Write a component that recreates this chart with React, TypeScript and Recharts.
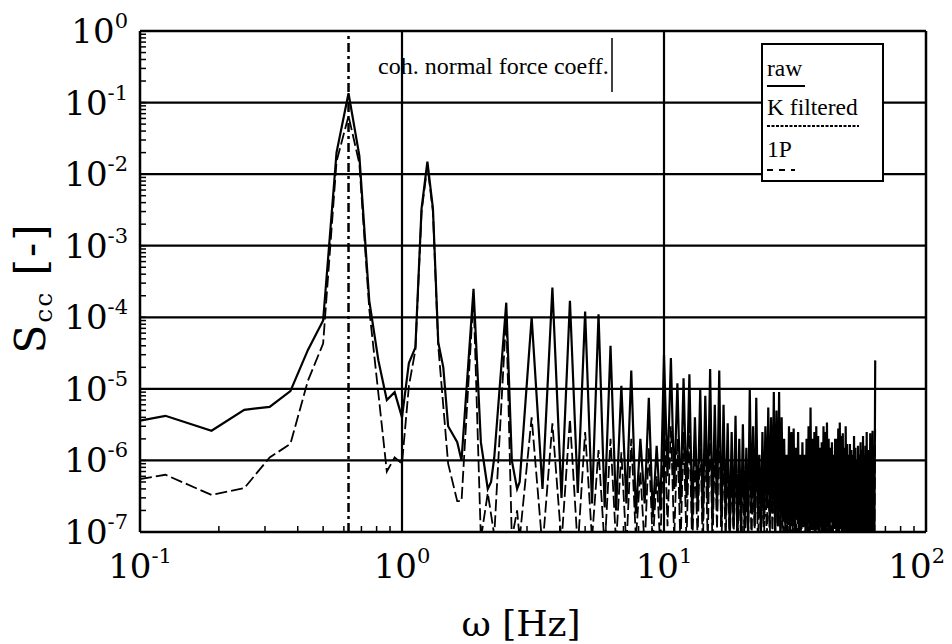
import React from 'react';
import { LineChart, Line, XAxis, YAxis, ReferenceLine, Legend, Label } from 'recharts';

const SERIF = '"Liberation Serif", "Times New Roman", serif';
const TICK_FONT = '"DejaVu Serif", "Liberation Serif", serif';

// ---- axis ticks ----
const xMajorTicks = [0.1, 1, 10, 100];
const xMinorTicks = [0.2, 0.3, 0.4, 0.5, 0.6, 0.7, 0.8, 0.9, 2, 3, 4, 5, 6, 7, 8, 9, 20, 30, 40, 50, 60, 70, 80, 90];
const yMajorTicks = [1e-7, 1e-6, 1e-5, 1e-4, 1e-3, 1e-2, 1e-1, 1];
const yMinorTicks = [
  2e-7, 3e-7, 4e-7, 5e-7, 6e-7, 7e-7, 8e-7, 9e-7,
  2e-6, 3e-6, 4e-6, 5e-6, 6e-6, 7e-6, 8e-6, 9e-6,
  2e-5, 3e-5, 4e-5, 5e-5, 6e-5, 7e-5, 8e-5, 9e-5,
  2e-4, 3e-4, 4e-4, 5e-4, 6e-4, 7e-4, 8e-4, 9e-4,
  2e-3, 3e-3, 4e-3, 5e-3, 6e-3, 7e-3, 8e-3, 9e-3,
  2e-2, 3e-2, 4e-2, 5e-2, 6e-2, 7e-2, 8e-2, 9e-2,
  0.2, 0.3, 0.4, 0.5, 0.6, 0.7, 0.8, 0.9,
];
const gridX = [1, 10];
const gridY = [1e-1, 1e-2, 1e-3, 1e-4, 1e-5, 1e-6];
const onePFreq = 0.625;

// ---- low-frequency part (Hz / value) ----
const lowRawFreq = [0.1, 0.125, 0.1875, 0.25, 0.3125, 0.375, 0.4375, 0.5, 0.5625, 0.625, 0.6875, 0.75, 0.8125, 0.875, 0.9375, 1, 1.0625, 1.125, 1.1875, 1.25, 1.3125, 1.375, 1.4375, 1.5, 1.625, 1.6875, 1.875, 2, 2.125, 2.1875, 2.25, 2.5, 2.625, 2.75, 2.8125];
const lowRawValue = [3.6e-6, 4.2e-6, 2.6e-6, 5.1e-6, 5.6e-6, 9.3e-6, 3.5e-5, 9e-5, 2e-2, 1.35e-1, 1.8e-2, 1.7e-4, 2.5e-5, 7e-6, 9e-6, 4e-6, 2.3e-5, 3.8e-5, 3.3e-3, 1.5e-2, 3.3e-3, 4.5e-5, 2e-5, 3e-6, 1.8e-6, 1e-6, 2.5e-4, 1.8e-6, 4e-7, 5e-7, 1.1e-6, 1.6e-4, 1e-6, 4e-7, 5e-7];

const lowFiltFreq = [0.1, 0.125, 0.1875, 0.25, 0.3125, 0.375, 0.4375, 0.5, 0.5625, 0.625, 0.6875, 0.75, 0.875, 0.9375, 1, 1.0625, 1.125, 1.1875, 1.25, 1.3125, 1.375, 1.5, 1.625, 1.6875, 1.875, 2, 2.125, 2.25, 2.5, 2.625, 2.75, 2.8125];
const lowFiltValue = [5.5e-7, 6.3e-7, 3.3e-7, 4.1e-7, 1.1e-6, 1.7e-6, 1.3e-5, 4.3e-5, 1.5e-2, 6.5e-2, 1.4e-2, 1.3e-4, 7e-7, 1.1e-6, 9e-7, 1.1e-5, 3.5e-5, 3e-3, 1.3e-2, 3e-3, 4e-5, 9e-7, 2.7e-7, 2.7e-7, 2e-4, 8e-8, 3.5e-7, 9e-8, 1.1e-4, 8e-8, 2e-7, 8e-8];

// ---- rotor harmonics (n x 1P) ----
const harmonicFreq = [
  3.125, 3.75, 4.375, 5, 5.625, 6.25, 6.875, 7.5, 8.125, 8.75, 9.375, 10,
  10.625, 11.25, 11.875, 12.5, 13.125, 13.75, 14.375, 15, 15.625, 16.25, 16.875, 17.5, 18.125, 18.75, 19.375, 20,
  20.625, 21.25, 21.875, 22.5, 23.125, 23.75, 24.375, 25, 25.625, 26.25, 26.875, 27.5, 28.125, 28.75, 29.375, 30,
  30.625, 31.25, 31.875, 32.5, 33.125, 33.75, 34.375, 35, 35.625, 36.25, 36.875, 37.5, 38.125, 38.75, 39.375, 40,
  40.625, 41.25, 41.875, 42.5, 43.125, 43.75, 44.375, 45, 45.625, 46.25, 46.875, 47.5, 48.125, 48.75, 49.375, 50,
  50.625, 51.25, 51.875, 52.5, 53.125, 53.75, 54.375, 55, 55.625, 56.25, 56.875, 57.5, 58.125, 58.75, 59.375, 60,
  60.625, 61.25, 61.875, 62.5, 63.125, 64,
];
const rawPeak = [
  1e-4, 2.6e-4, 1.7e-4, 1.2e-4, 1.1e-4, 4e-5, 1.1e-5, 1.8e-5, 2e-6, 7.5e-6, 1.6e-6, 3e-5,
  2.7e-5, 1.2e-5, 1.4e-5, 1.6e-5, 4e-6, 1e-5, 8e-6, 1.9e-5, 6e-6, 1.8e-5, 6e-6, 3.3e-6, 2.5e-6, 4.2e-6, 2e-6, 3.2e-6,
  1.5e-6, 1e-5, 3e-6, 7.5e-6, 1.2e-6, 2.5e-6, 3e-6, 5.5e-6, 4e-6, 9e-6, 5e-6, 9e-6, 4e-6, 2e-6, 1.2e-6, 3e-6,
  2.5e-6, 2.8e-6, 1.5e-6, 2.5e-6, 1.2e-6, 1.8e-6, 1.2e-6, 2e-6, 3e-6, 5.5e-6, 2e-6, 2.5e-6, 3e-6, 2.2e-6, 1.5e-6, 1.8e-6,
  3e-6, 2.5e-6, 3.4e-6, 2e-6, 1.5e-6, 1.8e-6, 1.2e-6, 2e-6, 2e-6, 2.8e-6, 3.4e-6, 2.2e-6, 2.4e-6, 1.5e-6, 3e-6, 1.7e-6,
  1.2e-6, 1.7e-6, 1.4e-6, 1.2e-6, 2.2e-6, 1.5e-6, 1e-6, 1.6e-6, 1.2e-6, 1.8e-6, 1.4e-6, 2.2e-6, 1.2e-6, 1.6e-6, 2.5e-6, 1.4e-6,
  1.3e-6, 2.4e-6, 1.4e-6, 2.6e-6, 1.5e-6, 2.5e-5,
];
const rawTrough = [
  4e-7, 3e-7, 3.5e-7, 2.5e-7, 2.2e-7, 2e-7, 2.5e-7, 1.8e-7, 2.5e-7, 1.6e-7, 2e-7, 6e-7,
  4e-7, 2.5e-7, 3e-7, 1.5e-7, 2e-7, 1.4e-7, 2.5e-7, 1.3e-7, 2e-7, 1.2e-7, 1.5e-7, 9e-8, 1.2e-7, 8e-8, 1e-7, 1.3e-7,
  9e-8, 2e-7, 1.2e-7, 1.8e-7, 1e-7, 1.5e-7, 2.5e-7, 1.4e-7, 1.8e-7, 1e-7, 1.2e-7, 9e-8, 1.5e-7, 1e-7, 1.3e-7, 8e-8,
  1.2e-7, 1e-7, 1.5e-7, 9e-8, 1.2e-7, 1.6e-7, 1e-7, 1.3e-7, 8e-8, 1.1e-7, 1.4e-7, 1e-7, 1.2e-7, 9e-8, 1.3e-7, 1e-7,
  1.1e-7, 8e-8, 1.2e-7, 1e-7, 1.4e-7, 9e-8, 1.1e-7, 1.3e-7, 8e-8, 1e-7, 1.2e-7, 9e-8, 1.1e-7, 1e-7, 8e-8, 1.2e-7,
  1e-7, 9e-8, 1.1e-7, 8e-8, 1.2e-7, 1e-7, 9e-8, 1.1e-7, 8e-8, 1e-7, 1.2e-7, 9e-8, 1e-7, 8e-8, 1.1e-7, 9e-8,
  1e-7, 8e-8, 1.1e-7, 9e-8, 1e-7,
];
const filtPeak = [
  4e-6, 3.3e-6, 3.8e-6, 2.5e-6, 1.4e-6, 2e-6, 1.3e-6, 2e-6, 7e-7, 1.5e-6, 6e-7, 5e-6,
  3e-6, 2e-6, 2.5e-6, 3e-6, 1e-6, 2.5e-6, 2e-6, 4e-6, 1.5e-6, 4e-6, 1.5e-6, 1e-6, 8e-7, 1.2e-6, 6e-7, 1e-6,
  5e-7, 2.5e-6, 8e-7, 2e-6, 4e-7, 7e-7, 8e-7, 1.5e-6, 1e-6, 2e-6, 1.2e-6, 2e-6, 1e-6, 6e-7, 4e-7, 8e-7,
  7e-7, 8e-7, 4e-7, 7e-7, 4e-7, 5e-7, 4e-7, 6e-7, 8e-7, 1.5e-6, 6e-7, 7e-7, 8e-7, 6e-7, 4e-7, 5e-7,
  8e-7, 7e-7, 9e-7, 6e-7, 4e-7, 5e-7, 4e-7, 6e-7, 6e-7, 8e-7, 9e-7, 6e-7, 7e-7, 4e-7, 8e-7, 5e-7,
  4e-7, 5e-7, 4e-7, 4e-7, 6e-7, 4e-7, 3e-7, 5e-7, 4e-7, 5e-7, 4e-7, 6e-7, 4e-7, 5e-7, 7e-7, 4e-7,
  4e-7, 6e-7, 4e-7, 7e-7, 4e-7, 3e-6,
];
const filtTrough = [
  6e-8, 7e-8, 6e-8, 8e-8, 6e-8, 7e-8, 6e-8, 8e-8, 6e-8, 7e-8, 6e-8, 1.2e-7,
  8e-8, 6e-8, 7e-8, 6e-8, 8e-8, 6e-8, 7e-8, 6e-8, 1.1e-7, 6e-8, 7e-8, 6e-8, 8e-8, 6e-8, 7e-8, 6e-8,
  7e-8, 6e-8, 1.1e-7, 6e-8, 8e-8, 6e-8, 7e-8, 6e-8, 8e-8, 6e-8, 1.2e-7, 6e-8, 7e-8, 6e-8, 8e-8, 6e-8,
  6e-8, 8e-8, 6e-8, 7e-8, 6e-8, 1.1e-7, 6e-8, 7e-8, 6e-8, 8e-8, 6e-8, 7e-8, 6e-8, 8e-8, 6e-8, 7e-8,
  6e-8, 7e-8, 6e-8, 8e-8, 6e-8, 7e-8, 1.1e-7, 6e-8, 7e-8, 6e-8, 8e-8, 6e-8, 7e-8, 6e-8, 8e-8, 6e-8,
  7e-8, 6e-8, 8e-8, 6e-8, 7e-8, 6e-8, 8e-8, 6e-8, 7e-8, 6e-8, 8e-8, 6e-8, 7e-8, 6e-8, 8e-8, 6e-8,
  7e-8, 6e-8, 8e-8, 6e-8, 7e-8,
];

type Pt = { f: number; v: number };
function buildSeries(lowF: number[], lowV: number[], peaks: number[], troughs: number[]): Pt[] {
  const pts: Pt[] = lowF.map((f, i) => ({ f, v: lowV[i] }));
  harmonicFreq.forEach((f, i) => {
    pts.push({ f, v: peaks[i] });
    if (i < troughs.length) pts.push({ f: (f + harmonicFreq[i + 1]) / 2, v: troughs[i] });
  });
  return pts;
}
const rawSeries = buildSeries(lowRawFreq, lowRawValue, rawPeak, rawTrough);
const filtSeries = buildSeries(lowFiltFreq, lowFiltValue, filtPeak, filtTrough);

const allX = [...xMajorTicks, ...xMinorTicks].sort((a, b) => a - b);
const allY = [...yMajorTicks, ...yMinorTicks].sort((a, b) => a - b);
const xDomainMax = 100;

function exponentOf(v: number): number | null {
  const e = Math.round(Math.log10(v));
  return Math.abs(v / Math.pow(10, e) - 1) < 1e-6 ? e : null;
}

const XTick = (props: any) => {
  const { x, y, payload } = props;
  const e = exponentOf(payload.value);
  if (e === null) return <g />;
  const atRightEdge = payload.value === xDomainMax;
  return (
    <text
      x={atRightEdge ? x + 19 : x}
      y={y + 50}
      textAnchor={atRightEdge ? 'end' : 'middle'}
      fontFamily={TICK_FONT}
      fontSize={34}
      fill="#000"
    >
      <tspan>10</tspan>
      <tspan dy={-15} fontSize={21}>{String(e)}</tspan>
    </text>
  );
};

const YTick = (props: any) => {
  const { x, y, payload } = props;
  const e = exponentOf(payload.value);
  if (e === null) return <g />;
  return (
    <text x={x} y={y + 12} textAnchor="end" fontFamily={TICK_FONT} fontSize={34} fill="#000">
      <tspan>10</tspan>
      <tspan dy={-15} fontSize={21}>{String(e)}</tspan>
    </text>
  );
};

const XTitle = () => (
  <text x={521} y={636} textAnchor="middle" fontFamily={TICK_FONT} fontSize={36} fill="#000">
    ω [Hz]
  </text>
);

const YTitle = () => (
  <text transform="translate(45,288) rotate(-90)" textAnchor="middle" fontFamily={TICK_FONT} fontSize={42} fill="#000" letterSpacing={2}>
    <tspan>S</tspan>
    <tspan fontSize={25} dy={7}>cc</tspan>
    <tspan dy={-7}> [-]</tspan>
  </text>
);

const PlotTitle = () => (
  <g>
    <text x={378} y={74} fontFamily={SERIF} fontSize={24} fill="#000">
      coh. normal force coeff.
    </text>
    <line x1={612} x2={612} y1={38} y2={92} stroke="#000" strokeWidth={1.5} />
  </g>
);

const LegendBox = () => (
  <svg width={124} height={140} style={{ display: 'block' }}>
    <rect x={1} y={1} width={121} height={137} fill="#fff" stroke="#000" strokeWidth={2} />
    <text x={6} y={33} fontFamily={SERIF} fontSize={23.5} fill="#000">raw</text>
    <line x1={6} x2={44} y1={43} y2={43} stroke="#000" strokeWidth={2} />
    <text x={6} y={72} fontFamily={SERIF} fontSize={23.5} fill="#000">K filtered</text>
    <line x1={6} x2={98} y1={83} y2={83} stroke="#000" strokeWidth={2} strokeDasharray="3 1.5" />
    <text x={6} y={114} fontFamily={SERIF} fontSize={23.5} fill="#000">1P</text>
    <line x1={6} x2={34} y1={127} y2={127} stroke="#000" strokeWidth={2} strokeDasharray="6 6" />
  </svg>
);

const axisLineStyle = { stroke: '#000', strokeWidth: 2.5 };
const tickLineStyle = { stroke: '#000', strokeWidth: 1.5 };

export default function App() {
  return (
    <div style={{ position: 'absolute', left: 0, top: 0, width: 952, height: 644, background: '#fff' }}>
      <LineChart width={952} height={644} margin={{ top: 30, right: 25, bottom: 52, left: 40 }}>
        <XAxis
          xAxisId={0}
          dataKey="f"
          type="number"
          scale="log"
          domain={[0.1, xDomainMax]}
          allowDataOverflow
          ticks={allX}
          interval={0}
          tick={XTick}
          tickSize={-6}
          tickMargin={2}
          tickLine={tickLineStyle}
          axisLine={axisLineStyle}
          height={60}
          label={<Label content={XTitle} />}
        />
        <XAxis
          xAxisId="top"
          orientation="top"
          dataKey="f"
          type="number"
          scale="log"
          domain={[0.1, xDomainMax]}
          allowDataOverflow
          ticks={allX}
          interval={0}
          tick={false}
          tickSize={-6}
          tickLine={tickLineStyle}
          axisLine={axisLineStyle}
          height={1}
          label={<Label content={PlotTitle} />}
        />
        <YAxis
          yAxisId={0}
          type="number"
          scale="log"
          domain={[1e-7, 1]}
          allowDataOverflow
          ticks={allY}
          interval={0}
          tick={YTick}
          tickSize={-6}
          tickMargin={18}
          tickLine={tickLineStyle}
          axisLine={axisLineStyle}
          width={100}
          label={<Label content={YTitle} />}
        />
        <YAxis
          yAxisId="right"
          orientation="right"
          type="number"
          scale="log"
          domain={[1e-7, 1]}
          allowDataOverflow
          ticks={allY}
          interval={0}
          tick={false}
          tickSize={-6}
          tickLine={tickLineStyle}
          axisLine={axisLineStyle}
          width={1}
        />
        {gridX.map((g) => (
          <ReferenceLine key={'gx' + g} x={g} stroke="#000" strokeWidth={2.2} />
        ))}
        {gridY.map((g) => (
          <ReferenceLine key={'gy' + g} y={g} stroke="#000" strokeWidth={2.2} />
        ))}
        <ReferenceLine x={onePFreq} stroke="#000" strokeWidth={2.5} strokeDasharray="9 4 3 4" />
        <Line
          data={rawSeries}
          dataKey="v"
          name="raw"
          type="linear"
          stroke="#000"
          strokeWidth={2.2}
          dot={false}
          isAnimationActive={false}
        />
        <Line
          data={filtSeries}
          dataKey="v"
          name="K filtered"
          type="linear"
          stroke="#000"
          strokeWidth={1.8}
          strokeDasharray="12 4"
          dot={false}
          isAnimationActive={false}
        />
        <Legend
          content={LegendBox}
          layout="horizontal"
          verticalAlign="middle"
          align="center"
          wrapperStyle={{ left: 761, top: 43, width: 124, height: 140 }}
        />
      </LineChart>
    </div>
  );
}
